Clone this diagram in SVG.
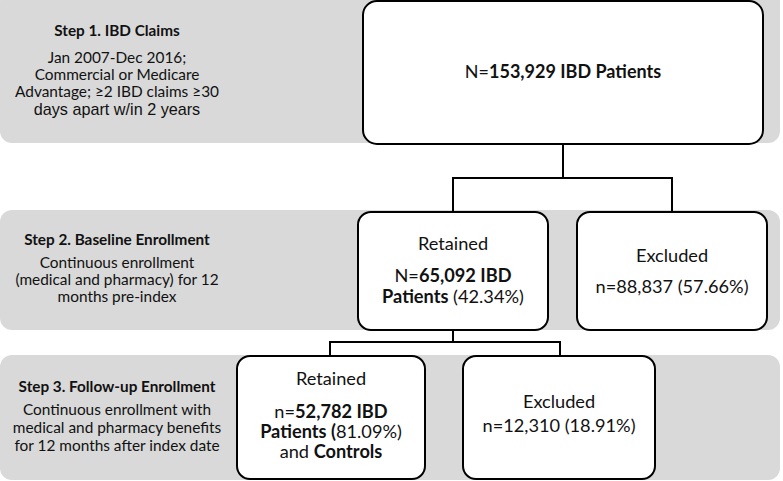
<svg xmlns="http://www.w3.org/2000/svg" width="783" height="481" viewBox="0 0 783 481">
<style>
.band{fill:#d9d9d9;}
.box{fill:#fff;stroke:#000;stroke-width:2;}
.con{fill:none;stroke:#000;stroke-width:2;}
text{font-family:Lato,"Open Sans","Liberation Sans",sans-serif;fill:#111;text-anchor:middle;}
.st{font-weight:bold;font-size:15.3px;}
.ds{font-size:15.4px;}
.ar{font-family:"Liberation Sans",Arial,sans-serif;font-size:16.2px;}
.bx{font-size:18.2px;}
.b{font-weight:bold;}
</style>
<g id="bands">
<rect class="band" x="0" y="-10" width="780" height="153" rx="12"/>
<rect class="band" x="0" y="210" width="780" height="120" rx="12"/>
<rect class="band" x="0" y="355" width="780" height="125" rx="12"/>
</g>
<g id="step1">
<text class="st" x="117" y="36">Step 1. IBD Claims</text>
<text class="ds" x="117" y="63">Jan 2007-Dec 2016;</text>
<text class="ds" x="117" y="80">Commercial or Medicare</text>
<text class="ds" x="117" y="97">Advantage; ≥2 IBD claims ≥30</text>
<text class="ar" x="117" y="115">days apart w/in 2 years</text>
</g>
<g id="step2">
<text class="st" x="117" y="245">Step 2. Baseline Enrollment</text>
<text class="ds" x="117" y="268">Continuous enrollment</text>
<text class="ds" x="117" y="285">(medical and pharmacy) for 12</text>
<text class="ds" x="117" y="302">months pre-index</text>
</g>
<g id="step3">
<text class="st" x="117" y="392">Step 3. Follow-up Enrollment</text>
<text class="ds" x="117" y="415">Continuous enrollment with</text>
<text class="ds" x="117" y="433">medical and pharmacy benefits</text>
<text class="ds" x="117" y="451">for 12 months after index date</text>
</g>
<g id="connectors">
<path class="con" d="M563 144 V178 M453 212 V178 H672 V212"/>
<path class="con" d="M453 330 V342 M330 355 V342 H560 V356"/>
</g>
<g id="n1">
<rect class="box" x="363" y="1" width="400" height="143" rx="14"/>
<text class="bx" x="563" y="78" style="font-size:18px">N=<tspan class="b">153,929 IBD Patients</tspan></text>
</g>
<g id="n2">
<rect class="box" x="358" y="212" width="190" height="118" rx="13"/>
<text class="bx" x="453" y="250">Retained</text>
<text class="bx" x="453" y="282">N=<tspan class="b">65,092 IBD</tspan></text>
<text class="bx" x="453" y="303"><tspan class="b">Patients</tspan> (42.34%)</text>
</g>
<g id="n3">
<rect class="box" x="577" y="212" width="190" height="118" rx="13"/>
<text class="bx" x="672" y="262">Excluded</text>
<text class="bx" x="672" y="293">n=88,837 (57.66%)</text>
</g>
<g id="n4">
<rect class="box" x="237" y="356" width="188" height="123" rx="13"/>
<text class="bx" x="331" y="385">Retained</text>
<text class="bx" x="331" y="418">n=<tspan class="b">52,782 IBD</tspan></text>
<text class="bx" x="331" y="438"><tspan class="b">Patients (</tspan>81.09%)</text>
<text class="bx" x="331" y="458">and <tspan class="b">Controls</tspan></text>
</g>
<g id="n5">
<rect class="box" x="463" y="356" width="192" height="123" rx="13"/>
<text class="bx" x="559" y="408">Excluded</text>
<text class="bx" x="559" y="432">n=12,310 (18.91%)</text>
</g>
</svg>
